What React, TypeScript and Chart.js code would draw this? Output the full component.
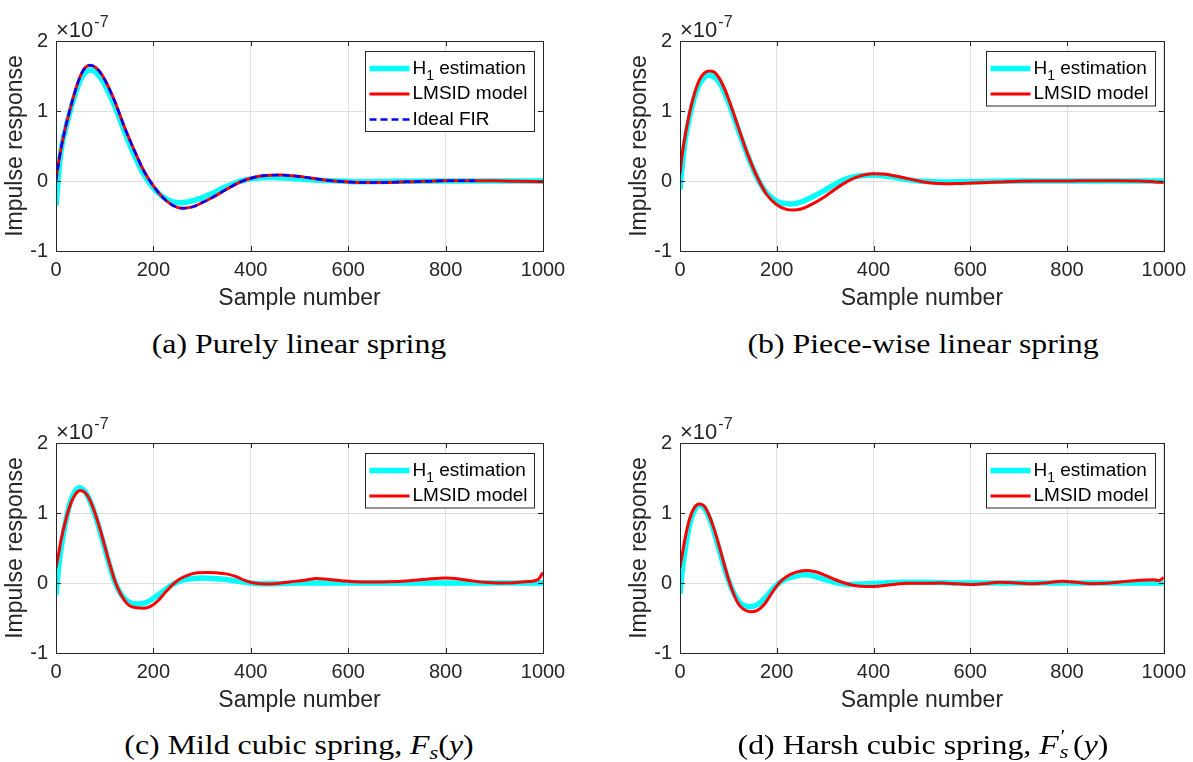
import React, { useEffect, useRef } from 'react';
import { Chart, registerables } from 'chart.js';

Chart.register(...registerables);

// ---------- shared axis definitions ----------
const X_TICKS = [0, 200, 400, 600, 800, 1000];
const Y_TICKS = [-1, 0, 1, 2];
const Y_EXPONENT = '-7';
const X_TITLE = 'Sample number';
const Y_TITLE = 'Impulse response';
const LABEL_H1 = 'H_1 estimation';
const LABEL_LMSID = 'LMSID model';
const LABEL_FIR = 'Ideal FIR';

// ---------- (a) Purely linear spring (values in units of 1e-7) ----------
const A_H1_X = [0, 3, 6, 10, 20, 30, 40, 50, 60, 70, 80, 90, 100, 120, 140, 160, 180, 200, 220, 240, 255, 270, 300, 320, 340, 360, 380, 400, 420, 440, 460, 480, 500, 540, 580, 620, 700, 800, 1000];
const A_H1_Y = [-0.35, -0.1, 0.15, 0.42, 0.75, 1.02, 1.25, 1.44, 1.55, 1.585, 1.56, 1.49, 1.38, 1.08, 0.72, 0.38, 0.1, -0.1, -0.23, -0.3, -0.31, -0.3, -0.24, -0.18, -0.11, -0.05, 0.0, 0.03, 0.045, 0.05, 0.048, 0.04, 0.03, 0.01, 0.0, -0.01, -0.005, 0.0, 0.0];
const A_LM_X = [0, 5, 10, 20, 30, 40, 50, 60, 70, 80, 90, 100, 120, 140, 160, 180, 200, 220, 240, 260, 280, 300, 320, 340, 360, 380, 400, 420, 440, 460, 480, 500, 520, 540, 560, 580, 600, 640, 680, 720, 760, 800, 850, 900, 950, 1000];
const A_LM_Y = [0.02, 0.25, 0.45, 0.78, 1.05, 1.3, 1.5, 1.62, 1.655, 1.63, 1.56, 1.45, 1.15, 0.78, 0.45, 0.15, -0.07, -0.24, -0.35, -0.39, -0.37, -0.31, -0.24, -0.16, -0.08, -0.01, 0.04, 0.07, 0.083, 0.086, 0.08, 0.065, 0.045, 0.025, 0.008, -0.005, -0.014, -0.022, -0.02, -0.012, -0.004, 0.003, 0.005, 0.002, -0.004, -0.01];
const A_FIR_X = [0, 5, 10, 20, 30, 40, 50, 60, 70, 80, 90, 100, 120, 140, 160, 180, 200, 220, 240, 260, 280, 300, 320, 340, 360, 380, 400, 420, 440, 460, 480, 500, 520, 540, 560, 580, 600, 640, 680, 720, 760, 800, 860];
const A_FIR_Y = [0.0, 0.24, 0.45, 0.78, 1.05, 1.3, 1.5, 1.62, 1.655, 1.63, 1.56, 1.45, 1.15, 0.78, 0.45, 0.15, -0.07, -0.24, -0.35, -0.39, -0.37, -0.31, -0.24, -0.16, -0.08, -0.01, 0.04, 0.07, 0.083, 0.086, 0.08, 0.065, 0.045, 0.025, 0.008, -0.005, -0.014, -0.022, -0.02, -0.012, -0.004, 0.003, 0.005];

// ---------- (b) Piece-wise linear spring ----------
const B_H1_X = [0, 5, 10, 20, 30, 40, 50, 60, 70, 80, 90, 100, 120, 140, 160, 180, 200, 215, 230, 250, 270, 300, 320, 340, 360, 380, 400, 420, 440, 460, 480, 500, 550, 600, 700, 800, 1000];
const B_H1_Y = [-0.12, 0.25, 0.55, 0.92, 1.2, 1.38, 1.48, 1.51, 1.49, 1.42, 1.3, 1.13, 0.74, 0.36, 0.04, -0.18, -0.29, -0.32, -0.33, -0.3, -0.24, -0.13, -0.05, 0.02, 0.06, 0.08, 0.085, 0.075, 0.055, 0.03, 0.01, -0.005, -0.015, -0.01, 0.0, 0.0, 0.0];
const B_LM_X = [0, 5, 10, 20, 30, 40, 50, 60, 70, 80, 90, 100, 120, 140, 160, 180, 200, 220, 235, 250, 270, 300, 320, 340, 360, 380, 400, 420, 440, 460, 480, 500, 520, 550, 580, 620, 660, 700, 750, 800, 850, 900, 950, 1000];
const B_LM_Y = [0.1, 0.4, 0.62, 0.98, 1.25, 1.44, 1.54, 1.57, 1.56, 1.48, 1.35, 1.18, 0.78, 0.38, 0.05, -0.2, -0.34, -0.405, -0.415, -0.4, -0.34, -0.22, -0.12, -0.03, 0.04, 0.085, 0.105, 0.1, 0.08, 0.05, 0.02, -0.01, -0.03, -0.04, -0.035, -0.025, -0.015, -0.005, 0.0, 0.0, 0.005, 0.005, 0.0, -0.02];

// ---------- (c) Mild cubic spring ----------
const C_H1_X = [0, 5, 10, 20, 30, 40, 48, 60, 70, 80, 90, 100, 110, 120, 130, 140, 155, 170, 185, 200, 220, 240, 260, 280, 300, 330, 360, 390, 420, 450, 500, 1000];
const C_H1_Y = [-0.17, 0.2, 0.48, 0.88, 1.17, 1.32, 1.36, 1.3, 1.17, 0.98, 0.75, 0.5, 0.25, 0.03, -0.12, -0.22, -0.29, -0.3, -0.28, -0.22, -0.12, -0.02, 0.04, 0.065, 0.07, 0.06, 0.04, 0.01, -0.01, -0.01, 0.0, 0.0];
const C_LM_X = [0, 5, 10, 20, 30, 40, 50, 60, 70, 80, 90, 100, 110, 120, 130, 140, 150, 165, 180, 195, 210, 225, 240, 255, 270, 290, 310, 330, 350, 370, 390, 410, 430, 450, 480, 510, 535, 560, 590, 630, 670, 700, 730, 770, 800, 820, 850, 880, 910, 940, 970, 990, 1000];
const C_LM_Y = [0.22, 0.4, 0.6, 0.9, 1.13, 1.27, 1.32, 1.29, 1.18, 1.0, 0.78, 0.53, 0.28, 0.05, -0.12, -0.24, -0.32, -0.355, -0.36, -0.33, -0.25, -0.13, -0.02, 0.06, 0.11, 0.145, 0.15, 0.145, 0.13, 0.09, 0.03, -0.005, -0.015, -0.01, 0.015, 0.04, 0.065, 0.05, 0.03, 0.015, 0.015, 0.02, 0.035, 0.06, 0.07, 0.065, 0.035, 0.01, 0.0, 0.005, 0.02, 0.05, 0.15];

// ---------- (d) Harsh cubic spring ----------
const D_H1_X = [0, 5, 10, 20, 30, 40, 50, 60, 70, 80, 90, 100, 110, 125, 145, 160, 175, 190, 205, 220, 240, 255, 270, 290, 310, 330, 350, 380, 420, 460, 500, 600, 800, 1000];
const D_H1_Y = [-0.15, 0.2, 0.45, 0.84, 1.04, 1.11, 1.07, 0.94, 0.74, 0.5, 0.26, 0.04, -0.13, -0.29, -0.34, -0.31, -0.22, -0.1, 0.0, 0.06, 0.1, 0.12, 0.11, 0.07, 0.03, -0.005, -0.02, -0.015, 0.0, 0.01, 0.01, 0.0, 0.0, 0.0];
const D_LM_X = [0, 5, 10, 20, 30, 40, 50, 60, 70, 80, 90, 100, 110, 120, 130, 145, 160, 175, 190, 205, 220, 240, 260, 280, 300, 320, 340, 360, 385, 410, 440, 470, 500, 540, 570, 605, 630, 660, 690, 730, 760, 790, 820, 850, 880, 910, 950, 980, 990, 1000];
const D_LM_Y = [0.22, 0.42, 0.62, 0.92, 1.08, 1.13, 1.1, 0.97, 0.78, 0.55, 0.3, 0.06, -0.14, -0.29, -0.37, -0.41, -0.39, -0.3, -0.14, 0.0, 0.09, 0.155, 0.18, 0.16, 0.11, 0.05, 0.0, -0.035, -0.05, -0.045, -0.02, -0.005, -0.005, 0.0, -0.01, -0.02, -0.01, 0.01, 0.005, -0.01, 0.005, 0.025, 0.01, -0.01, -0.005, 0.015, 0.04, 0.045, 0.035, 0.08];

// ---------- styling ----------
const TXT = '#262626';
const GRID = '#dfdfdf';
const SANS = '"Liberation Sans", Arial, Helvetica, sans-serif';
const SERIF = '"Liberation Serif", "Times New Roman", serif';
const CYAN = '#00ffff';
const RED = '#ff0000';
const BLUE = '#0000ff';

const pts = (xs: number[], ys: number[]) => xs.map((x, i) => ({ x, y: ys[i] }));

function drawRichLabel(ctx: CanvasRenderingContext2D, text: string, x: number, y: number, size: number) {
  // supports a single "_1" style subscript
  const m = text.match(/^(.*?)_(\S)(.*)$/);
  ctx.textBaseline = 'middle';
  ctx.textAlign = 'left';
  if (!m) {
    ctx.font = `${size}px ${SANS}`;
    ctx.fillText(text, x, y);
    return;
  }
  ctx.font = `${size}px ${SANS}`;
  ctx.fillText(m[1], x, y);
  let cx = x + ctx.measureText(m[1]).width;
  ctx.font = `${Math.round(size * 0.72)}px ${SANS}`;
  ctx.fillText(m[2], cx, y + size * 0.38);
  cx += ctx.measureText(m[2]).width;
  ctx.font = `${size}px ${SANS}`;
  ctx.fillText(m[3], cx, y);
}

const frameLegendPlugin = {
  id: 'matlabFrame',
  afterDraw(chart: any) {
    const { ctx, chartArea } = chart;
    const { left, right, top, bottom } = chartArea;
    const xs = chart.scales.x;
    const ys = chart.scales.y;
    ctx.save();
    // box
    ctx.strokeStyle = TXT;
    ctx.lineWidth = 1;
    ctx.strokeRect(Math.round(left) + 0.5, Math.round(top) + 0.5, Math.round(right - left), Math.round(bottom - top));
    // inward ticks
    const tl = 5;
    ctx.beginPath();
    X_TICKS.forEach((v) => {
      const px = Math.round(xs.getPixelForValue(v)) + 0.5;
      ctx.moveTo(px, bottom);
      ctx.lineTo(px, bottom - tl);
      ctx.moveTo(px, top);
      ctx.lineTo(px, top + tl);
    });
    Y_TICKS.forEach((v) => {
      const py = Math.round(ys.getPixelForValue(v)) + 0.5;
      ctx.moveTo(left, py);
      ctx.lineTo(left + tl, py);
      ctx.moveTo(right, py);
      ctx.lineTo(right - tl, py);
    });
    ctx.stroke();

    // exponent label
    ctx.fillStyle = TXT;
    ctx.textBaseline = 'alphabetic';
    ctx.textAlign = 'left';
    ctx.font = `22px ${SANS}`;
    const base = '\u00d710';
    ctx.fillText(base, left + 0, top - 4);
    const bw = ctx.measureText(base).width;
    ctx.font = `16px ${SANS}`;
    ctx.fillText(Y_EXPONENT, left + 1 + bw, top - 14);

    // legend
    const dsets = chart.data.datasets;
    const rowH = 25.5;
    const w = 169;
    const h = 17 + (dsets.length - 1) * rowH + 12;
    const bx = Math.round(right - 9 - w) + 0.5;
    const by = Math.round(top + 10) + 0.5;
    ctx.fillStyle = '#ffffff';
    ctx.fillRect(bx, by, w, h);
    ctx.strokeStyle = TXT;
    ctx.lineWidth = 1;
    ctx.strokeRect(bx, by, w, h);
    dsets.forEach((d: any, i: number) => {
      const yy = by + 17 + i * rowH;
      ctx.beginPath();
      ctx.strokeStyle = d.borderColor;
      ctx.lineWidth = d.borderWidth;
      ctx.setLineDash(d.borderDash || []);
      ctx.moveTo(bx + 4, yy);
      ctx.lineTo(bx + 44, yy);
      ctx.stroke();
      ctx.setLineDash([]);
      ctx.fillStyle = '#000000';
      drawRichLabel(ctx, d.label, bx + 47, yy, 19);
    });
    ctx.restore();
  },
};

type Series = { label: string; xs: number[]; ys: number[]; color: string; width: number; dash?: number[]; order: number };

function Panel({ left, top, width, series }: { left: number; top: number; width: number; series: Series[] }) {
  const ref = useRef<HTMLCanvasElement | null>(null);
  useEffect(() => {
    if (!ref.current) return;
    const plotW = 487;
    const chart = new Chart(ref.current, {
      type: 'line',
      data: {
        datasets: series.map((s) => ({
          label: s.label,
          data: pts(s.xs, s.ys),
          borderColor: s.color,
          backgroundColor: s.color,
          borderWidth: s.width,
          borderDash: s.dash,
          order: s.order,
          pointRadius: 0,
          fill: false,
          cubicInterpolationMode: 'monotone',
          borderCapStyle: 'butt',
          borderJoinStyle: 'round',
        })),
      },
      options: {
        animation: false,
        responsive: false,
        maintainAspectRatio: false,
        events: [],
        layout: { padding: { top: 41, left: 0, right: width - 56 - plotW, bottom: 0 } },
        plugins: { legend: { display: false }, tooltip: { enabled: false } },
        scales: {
          x: {
            type: 'linear',
            min: 0,
            max: 1000,
            afterBuildTicks: (s: any) => {
              s.ticks = X_TICKS.map((v) => ({ value: v }));
            },
            afterFit: (s: any) => {
              s.height = 320 - 251;
            },
            grid: { color: GRID, lineWidth: 1, drawTicks: false },
            border: { display: false },
            ticks: {
              font: { family: SANS, size: 20 },
              color: TXT,
              padding: 7,
              maxRotation: 0,
              autoSkip: false,
              callback: (v: any) => String(v),
            },
            title: { display: true, text: X_TITLE, font: { family: SANS, size: 23 }, color: TXT, padding: { top: 0, bottom: 8 } },
          },
          y: {
            type: 'linear',
            min: -1,
            max: 2,
            afterBuildTicks: (s: any) => {
              s.ticks = Y_TICKS.map((v) => ({ value: v }));
            },
            afterFit: (s: any) => {
              s.width = 56;
            },
            grid: { color: GRID, lineWidth: 1, drawTicks: false },
            border: { display: false },
            ticks: { font: { family: SANS, size: 20 }, color: TXT, padding: 8, callback: (v: any) => String(v) },
            title: { display: true, text: Y_TITLE, font: { family: SANS, size: 23 }, color: TXT, padding: { top: 2, bottom: 0 } },
          },
        },
      },
      plugins: [frameLegendPlugin],
    } as any);
    return () => chart.destroy();
  }, []);
  return (
    <canvas
      ref={ref}
      width={width}
      height={320}
      style={{ position: 'absolute', left, top, width, height: 320, display: 'block' }}
    />
  );
}

function Caption({ cx, cy, children }: { cx: number; cy: number; children: React.ReactNode }) {
  return (
    <div
      style={{
        position: 'absolute',
        left: cx - 300,
        width: 600,
        top: cy - 18,
        height: 36,
        lineHeight: '36px',
        textAlign: 'center',
        fontFamily: SERIF,
        fontSize: 27,
        color: '#000',
        whiteSpace: 'nowrap',
        transform: 'scaleX(1.18)',
        transformOrigin: 'center',
      }}
    >
      {children}
    </div>
  );
}

const h1 = (xs: number[], ys: number[]): Series => ({ label: LABEL_H1, xs, ys, color: CYAN, width: 5.5, order: 3 });
const lm = (xs: number[], ys: number[]): Series => ({ label: LABEL_LMSID, xs, ys, color: RED, width: 3, order: 2 });

export default function App() {
  return (
    <div style={{ position: 'absolute', left: 0, top: 0, width: 1193, height: 762, background: '#fff', overflow: 'hidden' }}>
      <Panel
        left={0}
        top={0}
        width={596}
        series={[
          h1(A_H1_X, A_H1_Y),
          lm(A_LM_X, A_LM_Y),
          { label: LABEL_FIR, xs: A_FIR_X, ys: A_FIR_Y, color: BLUE, width: 2.5, dash: [7, 4], order: 1 },
        ]}
      />
      <Panel left={624} top={0} width={569} series={[h1(B_H1_X, B_H1_Y), lm(B_LM_X, B_LM_Y)]} />
      <Panel left={0} top={402} width={596} series={[h1(C_H1_X, C_H1_Y), lm(C_LM_X, C_LM_Y)]} />
      <Panel left={624} top={402} width={569} series={[h1(D_H1_X, D_H1_Y), lm(D_LM_X, D_LM_Y)]} />
      <Caption cx={299} cy={344}>(a) Purely linear spring</Caption>
      <Caption cx={923} cy={344}>(b) Piece-wise linear spring</Caption>
      <Caption cx={299} cy={745}>
        (c) Mild cubic spring, <i>F</i>
        <sub style={{ fontSize: '0.7em', verticalAlign: '-0.25em' }}>
          <i>s</i>
        </sub>
        (<i>y</i>)
      </Caption>
      <Caption cx={923} cy={745}>
        (d) Harsh cubic spring, <i>F</i>
        <span
          style={{
            display: 'inline-block',
            position: 'relative',
            width: '0.45em',
            height: '1em',
            verticalAlign: 'baseline',
          }}
        >
          <span style={{ position: 'absolute', left: '0.08em', top: '-0.45em', fontSize: '0.7em' }}>{'\u2032'}</span>
          <span style={{ position: 'absolute', left: '0.05em', top: '0.35em', fontSize: '0.7em', fontStyle: 'italic' }}>s</span>
        </span>
        (<i>y</i>)
      </Caption>
    </div>
  );
}
